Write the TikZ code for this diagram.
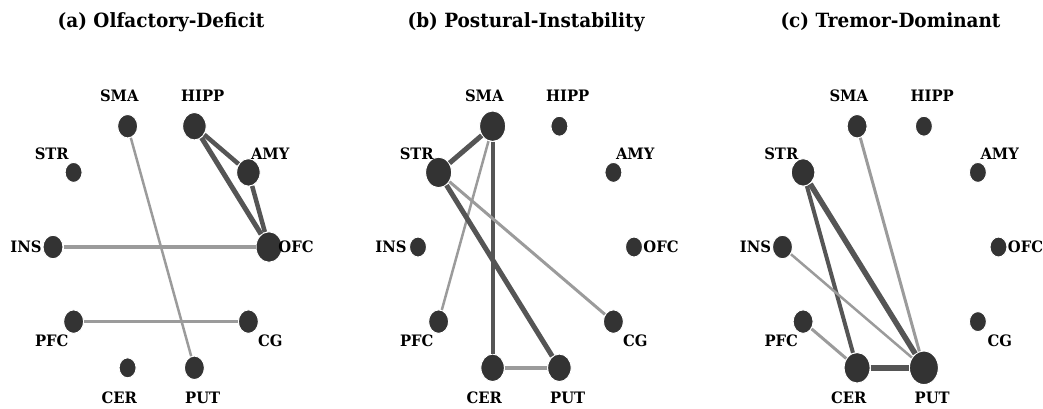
\documentclass[tikz,border=0pt]{standalone}
\usepackage{fontspec}
\setmainfont{DejaVu Serif}[FakeStretch=0.94]
\usepackage{tikz}
\usetikzlibrary{shapes.geometric}

\definecolor{nodegray}{RGB}{51,51,51}
\definecolor{edgedark}{RGB}{85,85,85}
\definecolor{edgelight}{RGB}{155,155,155}

\tikzset{
  region/.style={ellipse, fill=nodegray, draw=white, line width=0.75pt, inner sep=0pt},
  s0/.style={minimum width=17*0.75pt, minimum height=20*0.75pt},
  s1/.style={minimum width=20*0.75pt, minimum height=23.5*0.75pt},
  s2/.style={minimum width=23.5*0.75pt, minimum height=27.5*0.75pt},
  s3/.style={minimum width=26*0.75pt, minimum height=30.5*0.75pt},
  s4/.style={minimum width=29*0.75pt, minimum height=33.5*0.75pt},
  lbl/.style={font=\bfseries\fontsize{11.8}{13}\selectfont, inner sep=0pt},
  title/.style={font=\bfseries\fontsize{14.7}{17}\selectfont, inner sep=0pt},
  strong/.style={draw=edgedark, line width=#1*0.75pt},
  weak/.style={draw=edgelight, line width=#1*0.75pt}
}

\begin{document}
\begin{tikzpicture}[x=0.75pt, y=-0.75pt]
    \useasboundingbox (0,0) rectangle (1043,408);
    %% (a)
    \begin{scope}[shift={(161,247)}]
    \node [title] (aTitle) at (0,-225) {(a) Olfactory-Deficit};
    \node [region, s3] (aOFC) at (108,0) {};
    \node [region, s2] (aAMY) at (87.4,-74.6) {};
    \node [region, s2] (aHIPP) at (33.4,-120.8) {};
    \node [region, s1] (aSMA) at (-33.4,-120.8) {};
    \node [region, s0] (aSTR) at (-87.4,-74.6) {};
    \node [region, s1] (aINS) at (-108,0) {};
    \node [region, s1] (aPFC) at (-87.4,74.6) {};
    \node [region, s0] (aCER) at (-33.4,120.8) {};
    \node [region, s1] (aPUT) at (33.4,120.8) {};
    \node [region, s1] (aCG) at (87.4,74.6) {};
    \node [lbl] (aOFCtxt) at (135,0) {OFC};
    \node [lbl] (aAMYtxt) at (109.2,-93.3) {AMY};
    \node [lbl] (aHIPPtxt) at (41.7,-151) {HIPP};
    \node [lbl] (aSMAtxt) at (-41.7,-151) {SMA};
    \node [lbl] (aSTRtxt) at (-109.2,-93.3) {STR};
    \node [lbl] (aINStxt) at (-135,0) {INS};
    \node [lbl] (aPFCtxt) at (-109.2,93.3) {PFC};
    \node [lbl] (aCERtxt) at (-41.7,151) {CER};
    \node [lbl] (aPUTtxt) at (41.7,151) {PUT};
    \node [lbl] (aCGtxt) at (109.2,93.3) {CG};
    \draw [strong=5] (aHIPP) -- (aOFC);
    \draw [strong=4.5] (aHIPP) -- (aAMY);
    \draw [strong=4.5] (aAMY) -- (aOFC);
    \draw [weak=4] (aINS) -- (aOFC);
    \draw [weak=2.5] (aSMA) -- (aPUT);
    \draw [weak=3.5] (aPFC) -- (aCG);
    \end{scope}
    %% (b)
    \begin{scope}[shift={(526,247)}]
    \node [title] (bTitle) at (0,-225) {(b) Postural-Instability};
    \node [region, s0] (bOFC) at (108,0) {};
    \node [region, s0] (bAMY) at (87.4,-74.6) {};
    \node [region, s0] (bHIPP) at (33.4,-120.8) {};
    \node [region, s3] (bSMA) at (-33.4,-120.8) {};
    \node [region, s3] (bSTR) at (-87.4,-74.6) {};
    \node [region, s0] (bINS) at (-108,0) {};
    \node [region, s1] (bPFC) at (-87.4,74.6) {};
    \node [region, s2] (bCER) at (-33.4,120.8) {};
    \node [region, s2] (bPUT) at (33.4,120.8) {};
    \node [region, s1] (bCG) at (87.4,74.6) {};
    \node [lbl] (bOFCtxt) at (135,0) {OFC};
    \node [lbl] (bAMYtxt) at (109.2,-93.3) {AMY};
    \node [lbl] (bHIPPtxt) at (41.7,-151) {HIPP};
    \node [lbl] (bSMAtxt) at (-41.7,-151) {SMA};
    \node [lbl] (bSTRtxt) at (-109.2,-93.3) {STR};
    \node [lbl] (bINStxt) at (-135,0) {INS};
    \node [lbl] (bPFCtxt) at (-109.2,93.3) {PFC};
    \node [lbl] (bCERtxt) at (-41.7,151) {CER};
    \node [lbl] (bPUTtxt) at (41.7,151) {PUT};
    \node [lbl] (bCGtxt) at (109.2,93.3) {CG};
    \draw [strong=5] (bSMA) -- (bSTR);
    \draw [strong=4] (bSMA) -- (bCER);
    \draw [weak=2.5] (bSMA) -- (bPFC);
    \draw [strong=5] (bSTR) -- (bPUT);
    \draw [weak=3] (bSTR) -- (bCG);
    \draw [weak=4] (bCER) -- (bPUT);
    \end{scope}
    %% (c)
    \begin{scope}[shift={(890.5,247)}]
    \node [title] (cTitle) at (0,-225) {(c) Tremor-Dominant};
    \node [region, s0] (cOFC) at (108,0) {};
    \node [region, s0] (cAMY) at (87.4,-74.6) {};
    \node [region, s0] (cHIPP) at (33.4,-120.8) {};
    \node [region, s1] (cSMA) at (-33.4,-120.8) {};
    \node [region, s2] (cSTR) at (-87.4,-74.6) {};
    \node [region, s1] (cINS) at (-108,0) {};
    \node [region, s1] (cPFC) at (-87.4,74.6) {};
    \node [region, s3] (cCER) at (-33.4,120.8) {};
    \node [region, s4] (cPUT) at (33.4,120.8) {};
    \node [region, s0] (cCG) at (87.4,74.6) {};
    \node [lbl] (cOFCtxt) at (135,0) {OFC};
    \node [lbl] (cAMYtxt) at (109.2,-93.3) {AMY};
    \node [lbl] (cHIPPtxt) at (41.7,-151) {HIPP};
    \node [lbl] (cSMAtxt) at (-41.7,-151) {SMA};
    \node [lbl] (cSTRtxt) at (-109.2,-93.3) {STR};
    \node [lbl] (cINStxt) at (-135,0) {INS};
    \node [lbl] (cPFCtxt) at (-109.2,93.3) {PFC};
    \node [lbl] (cCERtxt) at (-41.7,151) {CER};
    \node [lbl] (cPUTtxt) at (41.7,151) {PUT};
    \node [lbl] (cCGtxt) at (109.2,93.3) {CG};
    \draw [strong=4] (cSTR) -- (cCER);
    \draw [strong=5.5] (cSTR) -- (cPUT);
    \draw [weak=3] (cSMA) -- (cPUT);
    \draw [weak=2.5] (cINS) -- (cPUT);
    \draw [weak=3] (cPFC) -- (cCER);
    \draw [strong=5.5] (cCER) -- (cPUT);
    \end{scope}
\end{tikzpicture}
\end{document}
